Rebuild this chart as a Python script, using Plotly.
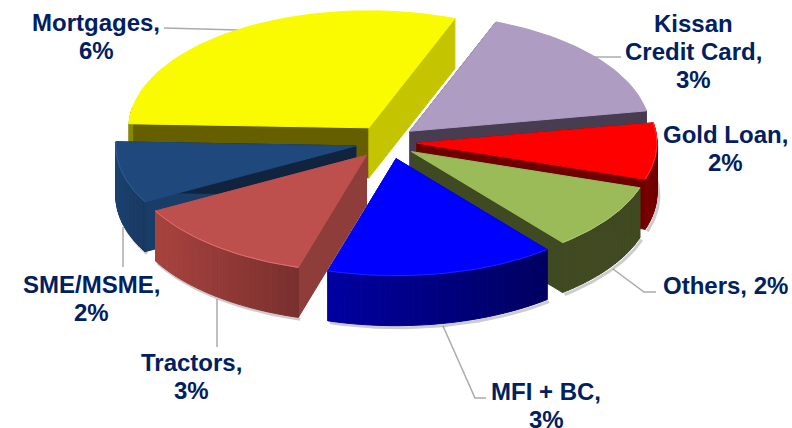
import math
import plotly.graph_objects as go

categories = ["Mortgages", "Kissan Credit Card", "Gold Loan", "Others", "MFI + BC", "Tractors", "SME/MSME"]
label_values = [6, 3, 2, 2, 3, 3, 2]
# slice sweep in degrees (clockwise from the start angle)
sweeps = [109, 59, 28, 33, 55.5, 45, 30.5]
top_colors = ["#FAFA00", "#AE9CC2", "#FF0000", "#9BBB59", "#0000FF", "#BD504D", "#1F497D"]
cut_start_colors = ["#665F00", "#483D50", "#6E0000", "#404A22", "#000070", "#8F3D3A", "#1A3D68"]
cut_end_colors = ["#C4C400", "#483D50", "#6E0000", "#404A22", "#000090", "#8F3D3A", "#10243F"]
wall_left_colors = ["#8A8A00", "#483D50", "#7A0000", "#404A22", "#0000A0", "#A8433F", "#1C4270"]
wall_right_colors = ["#8A8A00", "#483D50", "#700000", "#404A22", "#000060", "#78302E", "#183860"]
edge_colors = ["#FAFA00", "#B8A8CC", "#FF3030", "#AECB70", "#2020FF", "#E07070", "#2F5F98"]
label_lines = [["Mortgages,", "6%"], ["Kissan", "Credit Card,", "3%"], ["Gold Loan,", "2%"], ["Others, 2%"],
               ["MFI + BC,", "3%"], ["Tractors,", "3%"], ["SME/MSME,", "2%"]]
label_x = [96, 693, 725, 725, 546, 191, 91]
label_y = [22, 23, 134, 285, 391, 362, 284]
leader_x = [[164, 238], [621, 594], [656, 644, 613], [486, 475, 443], [217, 217], [123, 123]]
leader_y = [[28, 30], [57, 57], [292, 292, 269], [398, 398, 326], [347, 299], [267, 227]]
start_angle = 178
center = (386, 142)
rx, ry, depth = 240, 117, 50
explode_x, explode_y = 31, 17
nudge_x = [0, 0, 0, 0, 4, 0, 0]
line_gap = 28
draw_order = [0, 1, 2, 3, 6, 5, 4]


def rgb(c):
    return int(c[1:3], 16), int(c[3:5], 16), int(c[5:7], 16)


def mix(c0, c1, t):
    a, b = rgb(c0), rgb(c1)
    return "rgb(%d,%d,%d)" % tuple(round(a[i] + (b[i] - a[i]) * t) for i in range(3))


fig = go.Figure()


def poly(xs, ys, color):
    fig.add_trace(go.Scatter(x=xs, y=ys, mode="lines", fill="toself", fillcolor=color,
                             line=dict(color=color, width=1), hoverinfo="skip", showlegend=False))


def stroke(xs, ys, color, width):
    fig.add_trace(go.Scatter(x=xs, y=ys, mode="lines", line=dict(color=color, width=width),
                             hoverinfo="skip", showlegend=False))


def pt(a):
    t = math.radians(a)
    return rx * math.cos(t), -ry * math.sin(t)


for lx, ly in zip(leader_x, leader_y):
    stroke(lx, ly, "#ABABAB", 1.5)

bounds = []
a = start_angle
for s in sweeps:
    bounds.append((a, a - s))
    a -= s

for i in draw_order:
    a0, a1 = bounds[i]
    mid = math.radians((a0 + a1) / 2)
    cx = center[0] + explode_x * math.cos(mid) + nudge_x[i]
    cy = center[1] - explode_y * math.sin(mid)
    n = 40
    angs = [a0 + (a1 - a0) * k / n for k in range(n + 1)]
    front = [b for b in angs if math.sin(math.radians(b)) <= 0.2]
    # soft shadow under the front wall
    if front:
        stroke([cx + pt(b)[0] + 2 for b in front], [cy + pt(b)[1] + depth + 2 for b in front],
               "rgba(110,110,110,0.35)", 3)
    # cut faces
    for e, col in ((a0, cut_start_colors[i]), (a1, cut_end_colors[i])):
        ex, ey = pt(e)
        poly([cx, cx + ex, cx + ex, cx, cx], [cy, cy + ey, cy + ey + depth, cy + depth, cy], col)
    # outer wall in strips, coloured from its left end to its right end
    xmin = min(pt(b)[0] for b in angs)
    xmax = max(pt(b)[0] for b in angs)
    for k in range(n):
        b0, b1 = angs[k], angs[k + 1]
        if math.sin(math.radians((b0 + b1) / 2)) > 0.2:
            continue
        x0, y0 = pt(b0)
        x1, y1 = pt(b1)
        t = ((x0 + x1) / 2 - xmin) / max(xmax - xmin, 1)
        poly([cx + x0, cx + x1, cx + x1, cx + x0, cx + x0],
             [cy + y0, cy + y1, cy + y1 + depth, cy + y0 + depth, cy + y0],
             mix(wall_left_colors[i], wall_right_colors[i], t))
    # top
    xs = [cx] + [cx + pt(b)[0] for b in angs] + [cx]
    ys = [cy] + [cy + pt(b)[1] for b in angs] + [cy]
    poly(xs, ys, top_colors[i])
    if front:
        stroke([cx + pt(b)[0] for b in front], [cy + pt(b)[1] for b in front], edge_colors[i], 1)

for lines, x, y in zip(label_lines, label_x, label_y):
    for j, t in enumerate(lines):
        fig.add_annotation(x=x, y=y + j * line_gap, text=t, showarrow=False, align="center",
                           font=dict(family="Liberation Sans", size=24, color="#002060", weight="bold"))

fig.update_layout(width=792, height=428, margin=dict(l=0, r=0, t=0, b=0),
                  plot_bgcolor="white", paper_bgcolor="white",
                  xaxis=dict(range=[0, 792], visible=False, fixedrange=True),
                  yaxis=dict(range=[428, 0], visible=False, fixedrange=True))
fig.write_html("out.html", config={"displayModeBar": False},
               post_script="document.body.style.margin='0';document.documentElement.style.overflow='hidden';")
